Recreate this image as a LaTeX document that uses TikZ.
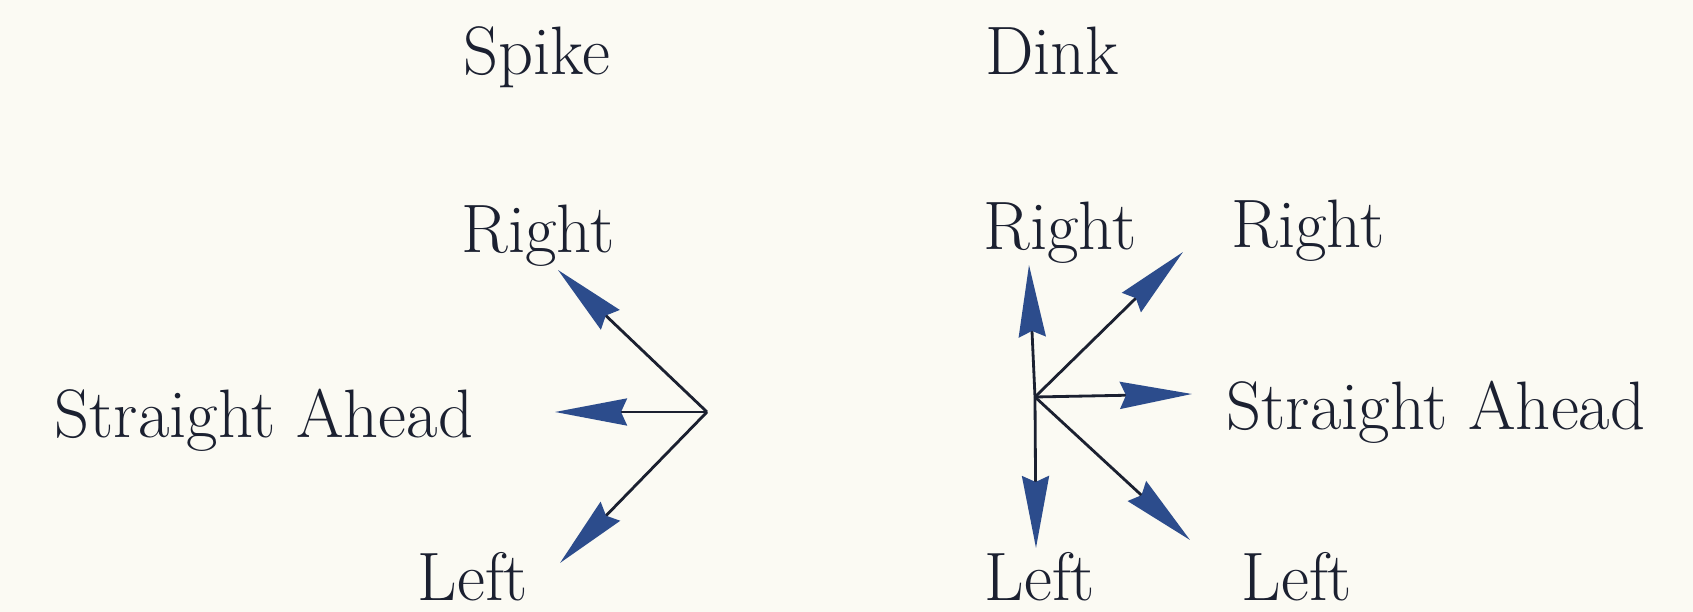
\documentclass[tikz,border=0pt]{standalone}
\usetikzlibrary{arrows.meta}
\definecolor{paper}{HTML}{FBFAF3}
\definecolor{inkdark}{HTML}{1B2030}
\definecolor{tipblue}{HTML}{2C4C8C}
\tikzset{
  lbl/.style={
    anchor=base,
    inner sep=0pt,
    text=inkdark,
    font=\fontsize{19.5}{22}\selectfont,
  },
  dirarr/.style={-{Stealth[length=0.72cm, width=0.27cm, inset=0.06cm, color=tipblue]}, draw=inkdark, line width=0.8pt},
}

\begin{document}
\begin{tikzpicture}

% Page
\fill[paper] (0,0) rectangle (16.93,6.12);
\useasboundingbox (0,0) rectangle (16.93,6.12);

% Titles
\node[lbl] (spike) at (5.37,5.37) {Spike};
\node[lbl] (dink)  at (10.52,5.37) {Dink};

% --- Spike: three directions -------------------------------------------
\coordinate (sv) at (7.07,2.00);
\coordinate (sright) at (5.58,3.42);
\coordinate (sahead) at (5.55,2.00);
\coordinate (sleft)  at (5.60,0.49);
\node[lbl] (srightlbl) at (5.38,3.59) {Right};
\node[lbl, anchor=base east] (saheadlbl) at (4.74,1.74) {Straight Ahead};
\node[lbl] (sleftlbl) at (4.73,0.11) {Left};
\foreach \t in {sright, sahead, sleft}
  {\draw[dirarr] (sv) -- (\t);}

% --- Dink: five directions ---------------------------------------------
\coordinate (dv) at (10.35,2.15);
\coordinate (dup)    at (10.29,3.47);
\coordinate (ddown)  at (10.36,0.64);
\coordinate (dupr)   at (11.83,3.60);
\coordinate (dahead) at (11.92,2.18);
\coordinate (ddownr) at (11.90,0.72);
\node[lbl] (duplbl) at (10.60,3.62) {Right};
\node[lbl] (duprlbl) at (13.08,3.64) {Right};
\node[lbl, anchor=base west] (daheadlbl) at (12.26,1.82) {Straight Ahead};
\node[lbl] (ddownlbl) at (10.40,0.11) {Left};
\node[lbl] (ddownrlbl) at (12.97,0.11) {Left};
\foreach \t in {dup, ddown, dupr, dahead, ddownr}
  {\draw[dirarr] (dv) -- (\t);}

\end{tikzpicture}
\end{document}
